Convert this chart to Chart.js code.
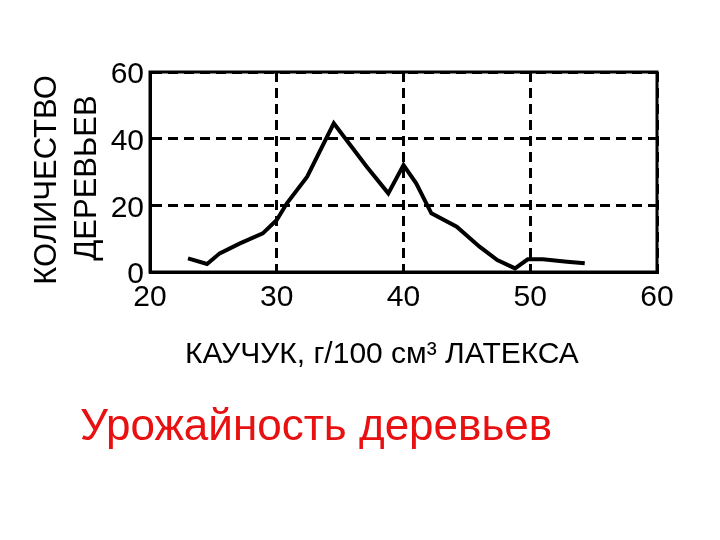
<!DOCTYPE html>
<html>
<head>
<script src="https://cdn.jsdelivr.net/npm/chart.js"></script>
<meta charset="UTF-8">
<title>Урожайность деревьев</title>
<style>
  body { margin: 0; background: #fff; }
</style>
</head>
<body>
<div>
  <canvas id="myChart" width="720" height="540"></canvas>
</div>

<script>
  // значения
  const rubber = [23.0, 24.5, 25.5, 27.1, 28.9, 30.0, 30.8, 32.4, 34.5, 37.1, 38.8, 40.0, 41.0, 42.2, 44.2, 46.0, 47.4, 48.8, 49.8, 51.0, 52.9, 54.3];
  const trees  = [4.1, 2.4, 5.6, 8.6, 11.6, 15.6, 20.6, 28.6, 44.6, 31.6, 23.6, 32.1, 26.6, 17.6, 13.6, 7.6, 3.6, 1.1, 3.8, 3.8, 3.1, 2.6];
  const xTicks = [20, 30, 40, 50, 60];
  const yTicks = [0, 20, 40, 60];
  const yTitle = ['КОЛИЧЕСТВО', 'ДЕРЕВЬЕВ'];
  const xTitle = 'КАУЧУК, г/100 см³ ЛАТЕКСА';
  const caption = 'Урожайность деревьев';

  const points = [];
  for (let i = 0; i < rubber.length; i++) {
    points.push({x: rubber[i], y: trees[i]});
  }

  const font = 'Liberation Sans, Arial, sans-serif';

  const frameAndText = {
    id: 'frameAndText',
    afterDraw(chart) {
      const c = chart.ctx;
      const a = chart.chartArea;
      c.save();
      c.strokeStyle = '#000';
      c.lineWidth = 3;
      c.strokeRect(a.left, a.top, a.right - a.left, a.bottom - a.top);

      c.fillStyle = '#000';
      c.font = '30px ' + font;
      c.textAlign = 'left';
      c.textBaseline = 'alphabetic';
      c.fillText(xTitle, 185, 363);

      c.font = '31px ' + font;
      c.save();
      c.translate(56, 180);
      c.rotate(-Math.PI / 2);
      c.textAlign = 'center';
      c.fillText(yTitle[0], 0, 0);
      c.restore();
      c.save();
      c.translate(96, 178);
      c.rotate(-Math.PI / 2);
      c.textAlign = 'center';
      c.fillText(yTitle[1], 0, 0);
      c.restore();

      c.fillStyle = '#e81010';
      c.font = '44px ' + font;
      c.textAlign = 'left';
      c.fillText(caption, 80, 440);
      c.restore();
    }
  };

  const ctx = document.getElementById('myChart');
  new Chart(ctx, {
    type: 'scatter',
    data: {
      datasets: [{
        data: points,
        showLine: true,
        borderColor: '#000',
        borderWidth: 4,
        pointRadius: 0,
        tension: 0
      }]
    },
    options: {
      responsive: false,
      animation: false,
      layout: { padding: { left: 0, top: 72, right: 63, bottom: 228 } },
      plugins: { legend: { display: false }, tooltip: { enabled: false } },
      scales: {
        x: {
          type: 'linear',
          min: 20, max: 60,
          afterBuildTicks: s => { s.ticks = xTicks.map(v => ({value: v})); },
          afterFit: s => { s.height = 40; },
          grid: { color: '#000', lineWidth: 3, drawTicks: false },
          border: { color: '#000', width: 3, dash: [10, 6] },
          ticks: { color: '#000', padding: 8, font: { family: font, size: 30 } }
        },
        y: {
          min: 0, max: 60,
          afterBuildTicks: s => { s.ticks = yTicks.map(v => ({value: v})); },
          afterFit: s => { s.width = 150; },
          grid: { color: '#000', lineWidth: 3, drawTicks: false },
          border: { color: '#000', width: 3, dash: [10, 6] },
          ticks: { color: '#000', padding: 6, labelOffset: 3, font: { family: font, size: 30 } }
        }
      }
    },
    plugins: [frameAndText]
  });
</script>

</body>
</html>
